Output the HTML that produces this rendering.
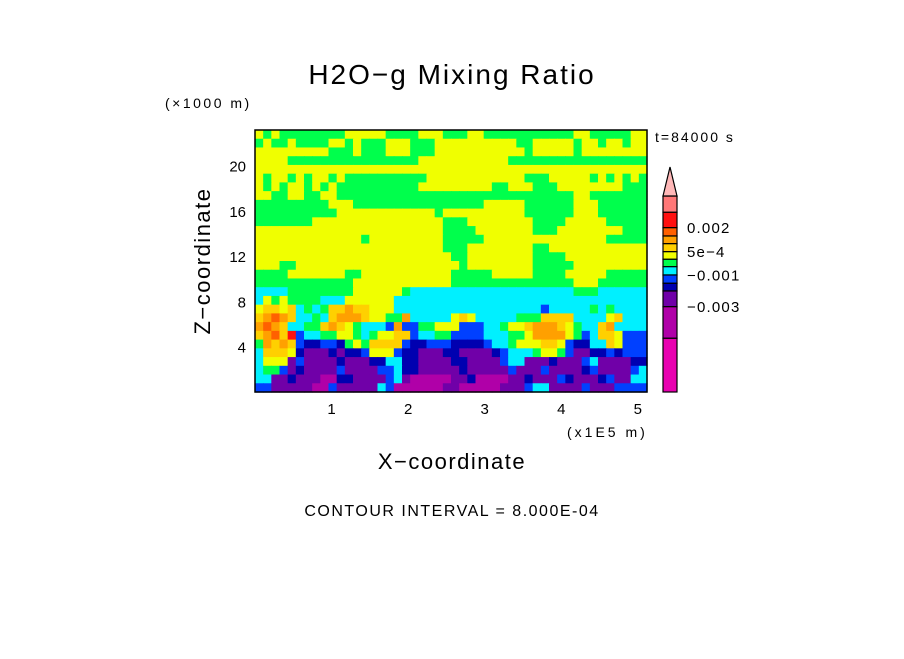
<!DOCTYPE html>
<html><head><meta charset="utf-8">
<style>
body{margin:0;background:#fff;width:904px;height:654px;overflow:hidden}
svg text{font-family:"Liberation Sans",sans-serif;fill:#000}
</style></head>
<body>
<svg id="chart" width="904" height="654" viewBox="0 0 904 654" xmlns="http://www.w3.org/2000/svg">
<text x="452" y="84" font-size="28" letter-spacing="2" text-anchor="middle">H2O−g Mixing Ratio</text>
<text x="165" y="108" font-size="14" letter-spacing="2.5">(×1000 m)</text>
<text x="655" y="142" font-size="14" letter-spacing="2">t=84000 s</text>
<text x="0" y="0" font-size="22" letter-spacing="1.5" text-anchor="middle" transform="translate(210,261) rotate(-90)">Z−coordinate</text>
<text x="567" y="437" font-size="14" letter-spacing="3">(x1E5 m)</text>
<text x="452" y="469" font-size="22" letter-spacing="1.5" text-anchor="middle">X−coordinate</text>
<text x="452" y="516" font-size="16" letter-spacing="1.5" text-anchor="middle">CONTOUR INTERVAL = 8.000E-04</text>
<g id="cells"></g>
<g id="axes"></g>
<g id="cbar"></g>
</svg>
<script>
// Level codes per grid cell (rows top -> bottom), from the picture
const gridRows = [
"767666666667777766667776667766666666666776666677",
"676676666776766677766677777777776677777677677677",
"777777777666766677766677777777777677777677777777",
"777766666666666666667777777777766666666666666666",
"777777777777777777777777777777777777777777777777",
"767767677676666666666777777777777666777776767676",
"767677676766666666667777777776677766677777777666",
"776677667766666666666666666666666666666776666666",
"666666666777666666666666666677777666666777666666",
"666666666677777777777767777777777666666777666666",
"666666677777777777777776667777777766667777766666",
"777777777777777777777776666777777766677777777666",
"777777777777767777777776666677777777777777766666",
"777777777777777777777776667777777766777777777777",
"777777777777777777777777667777777766667777777777",
"777667777777777777777777767777777766666777777777",
"666677777776677777777777666667777766667777766666",
"666666666666777777777777666666666666666777666666",
"555566666666777777655555555555555555555666555555",
"576766665557777775555555555555555555555555555555",
"788785656889887775555555555555555554555556565555",
"89a985565899987766955555787555556668888555578555",
"9a985566898765554944667774445567789998765589555",
"89a8b455667765677884556644445556679999764588744",
"698984334436768888433444333345567778874335587444",
"588873222323347774332223322223455567764223343444",
"577724222232223355332222332222455222322245222233",
"566423222242222445332222232222242224222234222245",
"552232221133222245211111223111122322243222342255",
"442222211422222541111112211111222455222242224444"
];
// Level colour table (index = level code 0..13, low -> high)
const levelColors = ["#e800b0","#b000a8","#7000a8","#0000b0","#0040ff","#00f0ff","#00ff4c","#f0ff00","#ffd000","#ffa000","#ff6000","#ff1010","#ff7878","#ffb8b8"];
const yTicks = [4,8,12,16,20];
const xTicks = [1,2,3,4,5];
const cbarLabels = ["0.002","5e-4","-0.001","-0.003"];
const cbarLabelLevels = [10,7,4,1];

const NS="http://www.w3.org/2000/svg";
const PX0=255, PX1=647, PY0=130, PY1=392;
const XMAX=5.12, ZMAX=23.15;
const xs = v => PX0 + v/XMAX*(PX1-PX0);
const zs = v => PY1 - v/ZMAX*(PY1-PY0);
function mk(tag, attrs, parent){const e=document.createElementNS(NS,tag);for(const k in attrs)e.setAttribute(k,attrs[k]);parent.appendChild(e);return e;}

const cells=document.getElementById('cells');
const nR=gridRows.length, nC=48;
const cw=(PX1-PX0)/nC, ch=(PY1-PY0)/nR;
gridRows.forEach((row,r)=>{
  let s=row; while(s.length<nC) s+=s[s.length-1]; s=s.slice(0,nC);
  for(let c=0;c<nC;c++){
    const lvl=parseInt(s[c],16);
    const el=mk('rect',{x:(PX0+c*cw).toFixed(2),y:(PY0+r*ch).toFixed(2),width:(cw+0.6).toFixed(2),height:(ch+0.6).toFixed(2),fill:levelColors[lvl]},cells);
    
    
  }
});

const axes=document.getElementById('axes');
const frame=mk('rect',{x:PX0,y:PY0,width:PX1-PX0,height:PY1-PY0,fill:'none',stroke:'#000','stroke-width':1.5},axes);


yTicks.forEach(v=>{
  const t=mk('text',{x:246,y:zs(v)+6,'font-size':15,'text-anchor':'end'},axes);
  t.textContent=v;
  
  
});
xTicks.forEach(v=>{
  const t=mk('text',{x:xs(v),y:414,'font-size':15,'text-anchor':'middle'},axes);
  t.textContent=v;
  
  
});

// colorbar
const cb=document.getElementById('cbar');
const CX0=663, CX1=677, CB0=196, CB1=392;
const cbTop=[196,212.3,227.7,236,243.7,251.7,259.3,266.7,275,283.3,291,306.7,338.3];
for(let i=0;i<13;i++){
  const lvl=12-i;
  const y0=cbTop[i], y1=(i<12?cbTop[i+1]:CB1);
  const b=mk('rect',{x:CX0,y:y0,width:CX1-CX0,height:y1-y0,fill:levelColors[lvl],stroke:'#000','stroke-width':1.2},cb);
  
  
}
const tri=mk('polygon',{points:`${CX0},${CB0} ${CX1},${CB0} ${(CX0+CX1)/2},167`,fill:levelColors[13],stroke:'#000','stroke-width':1.2},cb);


cbarLabels.forEach((lab,i)=>{
  const lvl=cbarLabelLevels[i];
  const yb=cbTop[12-lvl];
  const t=mk('text',{x:687,y:yb+5.5,'font-size':15,'letter-spacing':1.2},cb);
  t.textContent=lab.replace('-','−');
  
  
});
</script>
</body></html>
